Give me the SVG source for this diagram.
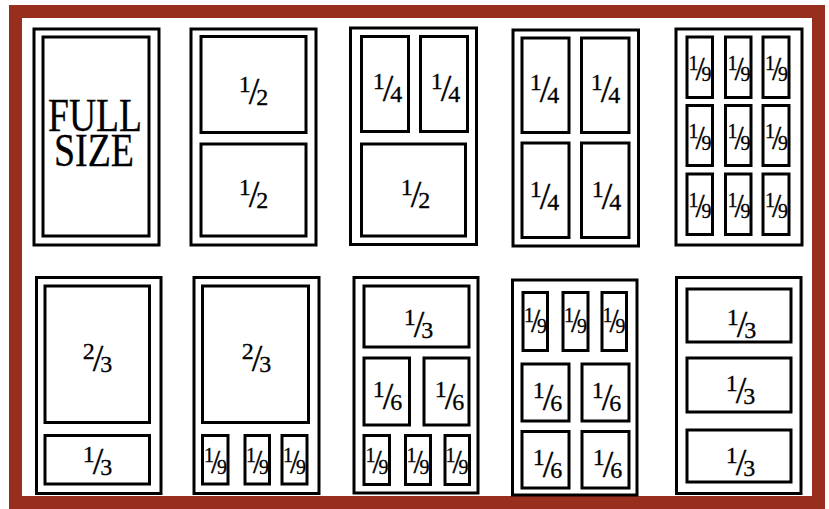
<svg xmlns="http://www.w3.org/2000/svg" width="829" height="509" viewBox="0 0 829 509">
<style>
.o{fill:#fff;stroke:#000;stroke-width:3}
.i{fill:#fff;stroke:#000;stroke-width:3}
text{font-family:"Liberation Serif","Times New Roman",serif;fill:#000;text-anchor:middle;stroke:#000;stroke-width:0.3}
.f{font-size:24px}
.f .s{font-size:38px}
.g{font-size:20px}
.g .s{font-size:33px}
.big{font-size:46px}
</style>
<rect x="0" y="0" width="829" height="509" fill="#fff"/>
<rect id="frame" x="15.5" y="11.5" width="803" height="491" fill="#fff" stroke="#982f1e" stroke-width="13"/>
<g id="connectors"/>

<g id="p1">
<rect class="o" x="34" y="29" width="125" height="216"/>
<rect class="i" x="43" y="37" width="106" height="199"/>
<text class="big" x="95" y="131" textLength="94" lengthAdjust="spacingAndGlyphs">FULL</text>
<text class="big" x="94" y="166" textLength="80" lengthAdjust="spacingAndGlyphs">SIZE</text>
</g>

<g id="p2">
<rect class="o" x="191" y="29" width="125" height="216"/>
<rect class="i" x="201" y="36.5" width="105" height="96"/>
<rect class="i" x="201" y="144" width="105" height="92"/>
<text class="f" x="253.5" y="92">1<tspan class="s" dx="-2" dy="11.5">/</tspan><tspan dx="-3" dy="1">2</tspan></text>
<text class="f" x="253.5" y="195">1<tspan class="s" dx="-2" dy="11.5">/</tspan><tspan dx="-3" dy="1">2</tspan></text>
</g>

<g id="p3">
<rect class="o" x="350.5" y="28" width="126" height="216.5"/>
<rect class="i" x="361.5" y="36.5" width="47" height="95"/>
<rect class="i" x="420.5" y="36.5" width="47" height="95"/>
<rect class="i" x="361.5" y="144" width="104" height="92"/>
<text class="f" x="387.5" y="89">1<tspan class="s" dx="-2" dy="11.5">/</tspan><tspan dx="-3" dy="1">4</tspan></text>
<text class="f" x="445.5" y="89">1<tspan class="s" dx="-2" dy="11.5">/</tspan><tspan dx="-3" dy="1">4</tspan></text>
<text class="f" x="415.5" y="195">1<tspan class="s" dx="-2" dy="11.5">/</tspan><tspan dx="-3" dy="1">2</tspan></text>
</g>

<g id="p4">
<rect class="o" x="513" y="30" width="125.5" height="216"/>
<rect class="i" x="522" y="38" width="47" height="94.5"/>
<rect class="i" x="581.5" y="38" width="47.5" height="94.5"/>
<rect class="i" x="522" y="143" width="47" height="94.5"/>
<rect class="i" x="581.5" y="143" width="47.5" height="94.5"/>
<text class="f" x="544.5" y="90">1<tspan class="s" dx="-2" dy="11.5">/</tspan><tspan dx="-3" dy="1">4</tspan></text>
<text class="f" x="605.5" y="90">1<tspan class="s" dx="-2" dy="11.5">/</tspan><tspan dx="-3" dy="1">4</tspan></text>
<text class="f" x="544.5" y="197">1<tspan class="s" dx="-2" dy="11.5">/</tspan><tspan dx="-3" dy="1">4</tspan></text>
<text class="f" x="606.5" y="197">1<tspan class="s" dx="-2" dy="11.5">/</tspan><tspan dx="-3" dy="1">4</tspan></text>
</g>

<g id="p5">
<rect class="o" x="676" y="29" width="126" height="216"/>
<rect class="i" x="687" y="37" width="25.5" height="60.5"/>
<rect class="i" x="725.5" y="37" width="25.5" height="60.5"/>
<rect class="i" x="763" y="37" width="26" height="60.5"/>
<rect class="i" x="687" y="105.5" width="25.5" height="60"/>
<rect class="i" x="725.5" y="105.5" width="25.5" height="60"/>
<rect class="i" x="763" y="105.5" width="26" height="60"/>
<rect class="i" x="687" y="174" width="25.5" height="60.5"/>
<rect class="i" x="725.5" y="174" width="25.5" height="60.5"/>
<rect class="i" x="763" y="174" width="26" height="60.5"/>
<text class="g" x="700" y="69.5">1<tspan class="s" dx="-3" dy="10.5">/</tspan><tspan dx="-3" dy="1">9</tspan></text>
<text class="g" x="739" y="69.5">1<tspan class="s" dx="-3" dy="10.5">/</tspan><tspan dx="-3" dy="1">9</tspan></text>
<text class="g" x="776.5" y="69.5">1<tspan class="s" dx="-3" dy="10.5">/</tspan><tspan dx="-3" dy="1">9</tspan></text>
<text class="g" x="700" y="138">1<tspan class="s" dx="-3" dy="10.5">/</tspan><tspan dx="-3" dy="1">9</tspan></text>
<text class="g" x="739" y="138">1<tspan class="s" dx="-3" dy="10.5">/</tspan><tspan dx="-3" dy="1">9</tspan></text>
<text class="g" x="776.5" y="138">1<tspan class="s" dx="-3" dy="10.5">/</tspan><tspan dx="-3" dy="1">9</tspan></text>
<text class="g" x="700" y="206.5">1<tspan class="s" dx="-3" dy="10.5">/</tspan><tspan dx="-3" dy="1">9</tspan></text>
<text class="g" x="739" y="206.5">1<tspan class="s" dx="-3" dy="10.5">/</tspan><tspan dx="-3" dy="1">9</tspan></text>
<text class="g" x="776.5" y="206.5">1<tspan class="s" dx="-3" dy="10.5">/</tspan><tspan dx="-3" dy="1">9</tspan></text>
</g>

<g id="p6">
<rect class="o" x="36.5" y="277.5" width="124.5" height="216"/>
<rect class="i" x="45" y="286" width="104.5" height="136.5"/>
<rect class="i" x="45" y="435.5" width="104.5" height="48.5"/>
<text class="f" x="97.5" y="359">2<tspan class="s" dx="-2" dy="11.5">/</tspan><tspan dx="-3" dy="1">3</tspan></text>
<text class="f" x="97.5" y="462">1<tspan class="s" dx="-2" dy="11.5">/</tspan><tspan dx="-3" dy="1">3</tspan></text>
</g>

<g id="p7">
<rect class="o" x="194" y="277.5" width="125" height="216"/>
<rect class="i" x="202.5" y="286" width="106" height="136.5"/>
<rect class="i" x="202.5" y="435.5" width="25.5" height="48.5"/>
<rect class="i" x="245" y="435.5" width="24.5" height="48.5"/>
<rect class="i" x="282" y="435.5" width="25" height="48.5"/>
<text class="f" x="256.5" y="359">2<tspan class="s" dx="-2" dy="11.5">/</tspan><tspan dx="-3" dy="1">3</tspan></text>
<text class="g" x="215.5" y="462">1<tspan class="s" dx="-3" dy="10.5">/</tspan><tspan dx="-3" dy="1">9</tspan></text>
<text class="g" x="257.5" y="462">1<tspan class="s" dx="-3" dy="10.5">/</tspan><tspan dx="-3" dy="1">9</tspan></text>
<text class="g" x="294.5" y="462">1<tspan class="s" dx="-3" dy="10.5">/</tspan><tspan dx="-3" dy="1">9</tspan></text>
</g>

<g id="p8">
<rect class="o" x="354" y="277.5" width="124" height="215.5"/>
<rect class="i" x="364" y="286" width="105" height="61"/>
<rect class="i" x="364" y="358" width="45.5" height="67"/>
<rect class="i" x="424" y="358" width="45" height="67"/>
<rect class="i" x="364" y="435.5" width="25.5" height="49"/>
<rect class="i" x="405.5" y="435.5" width="25" height="49"/>
<rect class="i" x="445" y="435.5" width="24.5" height="49"/>
<text class="f" x="418.5" y="325">1<tspan class="s" dx="-2" dy="11.5">/</tspan><tspan dx="-3" dy="1">3</tspan></text>
<text class="f" x="387.5" y="397">1<tspan class="s" dx="-2" dy="11.5">/</tspan><tspan dx="-3" dy="1">6</tspan></text>
<text class="f" x="449.5" y="397">1<tspan class="s" dx="-2" dy="11.5">/</tspan><tspan dx="-3" dy="1">6</tspan></text>
<text class="g" x="377" y="462">1<tspan class="s" dx="-3" dy="10.5">/</tspan><tspan dx="-3" dy="1">9</tspan></text>
<text class="g" x="418" y="462">1<tspan class="s" dx="-3" dy="10.5">/</tspan><tspan dx="-3" dy="1">9</tspan></text>
<text class="g" x="457" y="462">1<tspan class="s" dx="-3" dy="10.5">/</tspan><tspan dx="-3" dy="1">9</tspan></text>
</g>

<g id="p9">
<rect class="o" x="512.5" y="280" width="124.5" height="215"/>
<rect class="i" x="523" y="292.5" width="24.5" height="58"/>
<rect class="i" x="563" y="292.5" width="25" height="58"/>
<rect class="i" x="602" y="292.5" width="24.5" height="58"/>
<rect class="i" x="522" y="364" width="47" height="57"/>
<rect class="i" x="582" y="364" width="47" height="57"/>
<rect class="i" x="522" y="431.5" width="47" height="56.5"/>
<rect class="i" x="582" y="431.5" width="47" height="56.5"/>
<text class="g" x="535.5" y="321.5">1<tspan class="s" dx="-3" dy="10.5">/</tspan><tspan dx="-3" dy="1">9</tspan></text>
<text class="g" x="575.5" y="321.5">1<tspan class="s" dx="-3" dy="10.5">/</tspan><tspan dx="-3" dy="1">9</tspan></text>
<text class="g" x="614" y="321.5">1<tspan class="s" dx="-3" dy="10.5">/</tspan><tspan dx="-3" dy="1">9</tspan></text>
<text class="f" x="547.5" y="398">1<tspan class="s" dx="-2" dy="11.5">/</tspan><tspan dx="-3" dy="1">6</tspan></text>
<text class="f" x="606.5" y="398">1<tspan class="s" dx="-2" dy="11.5">/</tspan><tspan dx="-3" dy="1">6</tspan></text>
<text class="f" x="547.5" y="465">1<tspan class="s" dx="-2" dy="11.5">/</tspan><tspan dx="-3" dy="1">6</tspan></text>
<text class="f" x="607.5" y="465">1<tspan class="s" dx="-2" dy="11.5">/</tspan><tspan dx="-3" dy="1">6</tspan></text>
</g>

<g id="p10">
<rect class="o" x="676.5" y="277.5" width="124.5" height="216"/>
<rect class="i" x="687" y="289" width="104" height="53"/>
<rect class="i" x="687" y="358" width="104" height="54"/>
<rect class="i" x="687" y="430" width="104" height="52"/>
<text class="f" x="741.5" y="325">1<tspan class="s" dx="-2" dy="11.5">/</tspan><tspan dx="-3" dy="1">3</tspan></text>
<text class="f" x="740.5" y="391">1<tspan class="s" dx="-2" dy="11.5">/</tspan><tspan dx="-3" dy="1">3</tspan></text>
<text class="f" x="740.5" y="463">1<tspan class="s" dx="-2" dy="11.5">/</tspan><tspan dx="-3" dy="1">3</tspan></text>
</g>
</svg>
